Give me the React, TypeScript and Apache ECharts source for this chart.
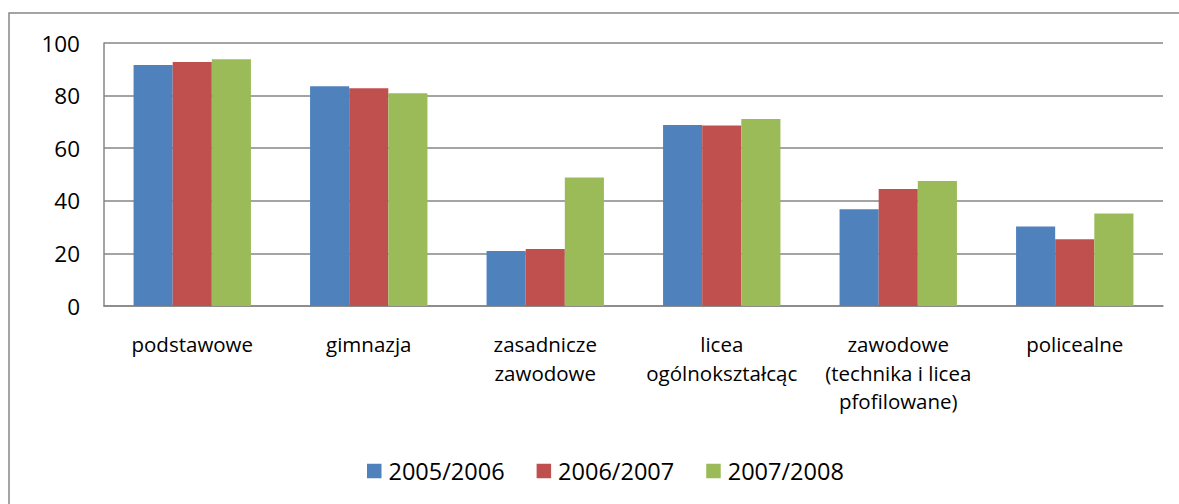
import React, { useEffect, useRef } from "react";
import * as echarts from "echarts";

const categories = [
  "podstawowe",
  "gimnazja",
  "zasadnicze\nzawodowe",
  "licea\nogólnokształcąc",
  "zawodowe\n(technika i licea\npfofilowane)",
  "policealne",
];
const seriesNames = ["2005/2006", "2006/2007", "2007/2008"];
const s2005 = [91.6, 83.6, 20.9, 68.8, 36.8, 30.2];
const s2006 = [92.8, 82.8, 21.7, 68.6, 44.5, 25.4];
const s2007 = [93.8, 80.9, 48.9, 71.1, 47.5, 35.2];
const colors = ["#4F81BD", "#C0504D", "#9BBB59"];
const FONT = "'Open Sans', sans-serif";

export default function App() {
  const ref = useRef<HTMLDivElement>(null);
  useEffect(() => {
    document.body.style.margin = "0";
    const chart = echarts.init(ref.current!, null, { renderer: "svg" });
    const data = [s2005, s2006, s2007];
    chart.setOption({
      animation: false,
      backgroundColor: "#ffffff",
      textStyle: { fontFamily: FONT, color: "#000" },
      graphic: [
        {
          type: "rect",
          shape: { x: 9, y: 13, width: 1200, height: 600 },
          style: { fill: "none", stroke: "#868686", lineWidth: 1.5 },
          silent: true,
        },
      ],
      grid: { left: 104, right: 16, top: 43, bottom: 198, containLabel: false },
      legend: {
        left: 362,
        top: 454,
        itemWidth: 14.5,
        itemHeight: 14.5,
        itemGap: 32,
        icon: "rect",
        data: seriesNames,
        textStyle: { fontFamily: FONT, fontSize: 23.5, color: "#000", padding: [0, 0, 0, 2] },
      },
      xAxis: {
        type: "category",
        data: categories,
        axisLine: { lineStyle: { color: "#868686", width: 1.5 } },
        axisTick: { show: false },
        axisLabel: {
          interval: 0,
          margin: 24,
          fontFamily: FONT,
          fontSize: 20.5,
          lineHeight: 28.5,
          color: "#000",
        },
      },
      yAxis: {
        type: "value",
        min: 0,
        max: 100,
        interval: 20,
        axisLine: { show: true, lineStyle: { color: "#868686", width: 1.5 } },
        axisTick: { show: false },
        splitLine: { lineStyle: { color: "#868686", width: 1.5 } },
        axisLabel: { margin: 24, fontFamily: FONT, fontSize: 22.5, color: "#000" },
      },
      series: seriesNames.map((name, i) => ({
        name,
        type: "bar",
        data: data[i],
        barGap: "0%",
        barCategoryGap: "33.5%",
        itemStyle: { color: colors[i] },
      })),
    });
    return () => chart.dispose();
  }, []);
  return <div ref={ref} style={{ width: 1179, height: 504 }} />;
}
